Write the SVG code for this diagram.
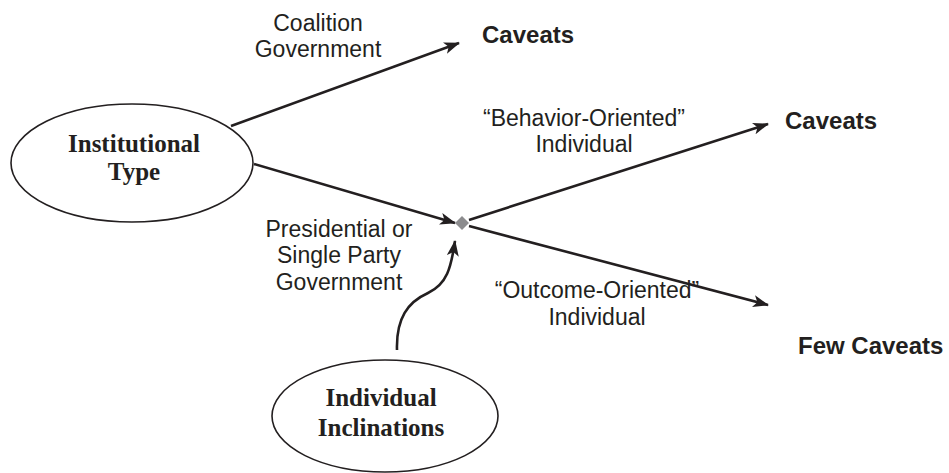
<svg xmlns="http://www.w3.org/2000/svg" width="949" height="473" viewBox="0 0 949 473">
<style>
.node ellipse{fill:#fff;stroke:#231f20;stroke-width:1.6}
.serif{font-family:"Liberation Serif","Times New Roman",serif;font-weight:bold;font-size:25px;fill:#231f20;text-anchor:middle}
.lbl{font-family:"Liberation Sans",Arial,sans-serif;font-size:23px;fill:#231f20;text-anchor:middle}
.out{font-family:"Liberation Sans",Arial,sans-serif;font-size:24px;font-weight:bold;fill:#231f20}
.conn path{fill:none;stroke:#231f20;stroke-width:2.6}
</style>
<defs>
<marker id="ah" markerUnits="userSpaceOnUse" markerWidth="16" markerHeight="12" refX="15" refY="6" orient="auto" viewBox="0 0 16 12">
<path d="M0,0 L16,6 L0,12 L4,6 z" fill="#231f20"/>
</marker>
</defs>
<g class="conn" id="connectors">
<path d="M231,126 L459,43" marker-end="url(#ah)"/>
<path d="M254,164 L455,223" marker-end="url(#ah)"/>
<path d="M469,220 L768,124" marker-end="url(#ah)"/>
<path d="M469,226 L768,305" marker-end="url(#ah)"/>
<path d="M397,350 C396,318 408,302 428,293 C447,284 451,268 455,241" marker-end="url(#ah)"/>
<polygon points="462,216 469,223 462,230 455,223" fill="#8c8c8e" stroke="none"/>
</g>
<g class="node" id="institutional-type">
<ellipse cx="132" cy="163" rx="121" ry="59"/>
<text class="serif" x="134" y="152">Institutional</text>
<text class="serif" x="134" y="180">Type</text>
</g>
<g class="node" id="individual-inclinations">
<ellipse cx="385" cy="416" rx="113" ry="56"/>
<text class="serif" x="381" y="406">Individual</text>
<text class="serif" x="381" y="436">Inclinations</text>
</g>
<g id="caveats-1"><text class="out" x="482" y="43">Caveats</text></g>
<g id="caveats-2"><text class="out" x="785" y="129">Caveats</text></g>
<g id="few-caveats"><text class="out" x="798" y="354">Few Caveats</text></g>
<g id="labels">
<text class="lbl" x="318" y="31">Coalition</text>
<text class="lbl" x="318" y="57">Government</text>
<text class="lbl" x="584" y="126">“Behavior-Oriented”</text>
<text class="lbl" x="584" y="152">Individual</text>
<text class="lbl" x="339" y="237">Presidential or</text>
<text class="lbl" x="339" y="263">Single Party</text>
<text class="lbl" x="339" y="290">Government</text>
<text class="lbl" x="597" y="298">“Outcome-Oriented”</text>
<text class="lbl" x="597" y="325">Individual</text>
</g>
</svg>
